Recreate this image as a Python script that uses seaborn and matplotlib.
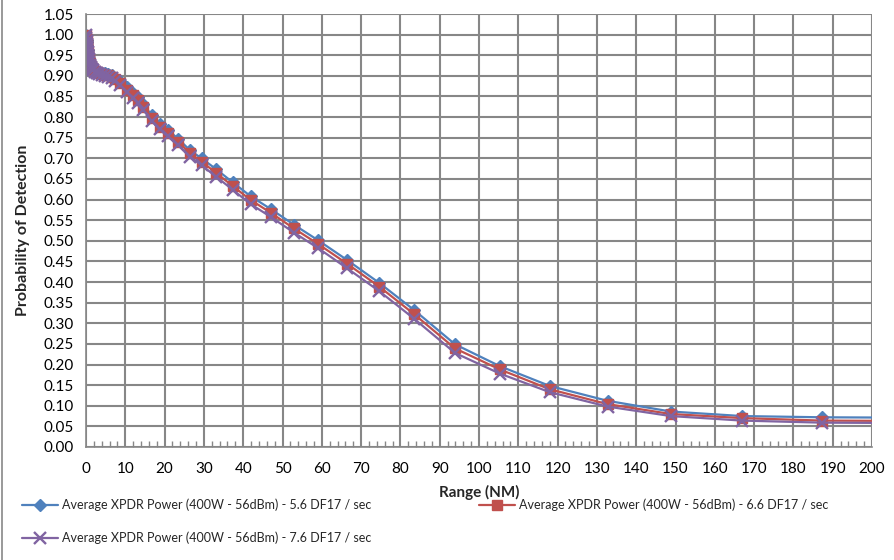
import matplotlib
matplotlib.use("Agg")
import matplotlib.pyplot as plt
import seaborn as sns
import pandas as pd
from matplotlib.ticker import MultipleLocator
from matplotlib.lines import Line2D

# range (NM) for each sample
range_nm = [0.05, 0.1, 0.15, 0.2, 0.25, 0.3, 0.4, 0.5, 0.6, 0.7, 0.8, 1.0, 1.2, 1.5,
            1.8, 2.2, 2.7, 3.3, 4.0, 4.8, 5.6, 6.5, 7.5, 8.7, 10.4, 12.0, 13.3, 14.6,
            16.7, 18.8, 20.9, 23.5, 26.5, 29.4, 33.2, 37.3, 41.9, 47.0, 52.9, 59.1,
            66.5, 74.6, 83.5, 93.9, 105.3, 118.0, 132.7, 148.8, 167.0, 187.4, 212.0]

pd_56 = [1.000, 0.995, 0.988, 0.981, 0.975, 0.970, 0.962, 0.955, 0.949, 0.944, 0.939,
         0.933, 0.928, 0.923, 0.919, 0.915, 0.912, 0.910, 0.908, 0.906, 0.904, 0.901,
         0.896, 0.887, 0.872, 0.859, 0.848, 0.832, 0.804, 0.784, 0.768, 0.747, 0.719,
         0.700, 0.673, 0.642, 0.608, 0.577, 0.539, 0.501, 0.453, 0.398, 0.332, 0.249,
         0.196, 0.148, 0.112, 0.086, 0.075, 0.072, 0.071]

pd_66 = [1.000, 0.993, 0.986, 0.979, 0.973, 0.968, 0.960, 0.953, 0.947, 0.942, 0.937,
         0.930, 0.925, 0.920, 0.916, 0.912, 0.909, 0.907, 0.905, 0.903, 0.901, 0.898,
         0.892, 0.882, 0.866, 0.853, 0.841, 0.825, 0.797, 0.777, 0.761, 0.740, 0.712,
         0.692, 0.664, 0.633, 0.599, 0.568, 0.530, 0.492, 0.444, 0.389, 0.322, 0.239,
         0.188, 0.140, 0.104, 0.080, 0.070, 0.064, 0.063]

pd_76 = [1.000, 0.991, 0.984, 0.977, 0.971, 0.966, 0.958, 0.951, 0.945, 0.940, 0.934,
         0.927, 0.922, 0.917, 0.913, 0.909, 0.906, 0.904, 0.902, 0.900, 0.898, 0.894,
         0.887, 0.877, 0.860, 0.847, 0.835, 0.818, 0.790, 0.770, 0.753, 0.732, 0.704,
         0.683, 0.655, 0.624, 0.589, 0.558, 0.520, 0.482, 0.433, 0.378, 0.311, 0.228,
         0.178, 0.133, 0.098, 0.075, 0.064, 0.059, 0.058]

labels = ["Average XPDR Power (400W - 56dBm) - 5.6 DF17 / sec",
          "Average XPDR Power (400W - 56dBm) - 6.6 DF17 / sec",
          "Average XPDR Power (400W - 56dBm) - 7.6 DF17 / sec"]
colors = ["#4F81BD", "#C0504D", "#8064A2"]
markers = ["D", "s", "x"]
msizes = [6.5, 7, 8]
mwidths = [1.0, 1.0, 1.7]

sns.set_style("white")
plt.rcParams["font.family"] = ["Lato", "DejaVu Sans"]

fig = plt.figure(figsize=(8.95, 5.6), dpi=100)
ax = fig.add_axes([0.0961, 0.2018, 0.8782, 0.7732])

series = [pd_56, pd_66, pd_76]
for vals, lab, col, mk, ms, mw in zip(series, labels, colors, markers, msizes, mwidths):
    df = pd.DataFrame({"x": range_nm, "y": vals})
    sns.lineplot(data=df, x="x", y="y", ax=ax, color=col, linewidth=1.6,
                 marker=mk, markersize=ms, markeredgecolor=col,
                 markeredgewidth=mw, label=lab, sort=False)

ax.set_xlim(0, 200)
ax.set_ylim(0, 1.05)
ax.xaxis.set_major_locator(MultipleLocator(10))
ax.xaxis.set_minor_locator(MultipleLocator(2))
ax.yaxis.set_major_locator(MultipleLocator(0.05))
ax.yaxis.set_major_formatter(matplotlib.ticker.FormatStrFormatter("%.2f"))

ax.grid(True, which="major", color="#878787", linewidth=1.5)
ax.set_axisbelow(True)
for s in ["top", "right"]:
    ax.spines[s].set_visible(False)
for s in ["left", "bottom"]:
    ax.spines[s].set_color("#878787")
    ax.spines[s].set_linewidth(1.2)

ax.tick_params(axis="both", which="major", direction="out", length=5,
               color="#878787", width=1.0, labelsize=11, colors="#878787",
               labelcolor="black")
ax.tick_params(axis="x", which="minor", direction="in", length=4, bottom=True,
               color="#878787", width=1.0)
ax.tick_params(axis="x", which="major", pad=6)

ax.set_xlabel("Range (NM)", fontsize=11, fontweight="bold", labelpad=6)
ax.set_ylabel("Probability of Detection", fontsize=11.5, fontweight="bold", labelpad=10)

handles = [Line2D([0], [0], color=c, marker=m, linewidth=1.6, markersize=ms,
                  markeredgewidth=mw)
           for c, m, ms, mw in zip(colors, markers, msizes, mwidths)]
ax.legend_.remove()
# column-major fill: blue and purple in column 1, red in column 2
order = [0, 2, 1]
fig.legend([handles[i] for i in order], [labels[i] for i in order],
           loc="upper left", bbox_to_anchor=(0.012, 0.13), ncol=2,
           frameon=False, fontsize=9.0, handlelength=2.9, handletextpad=0.3,
           columnspacing=8.6, labelspacing=1.65)

# left border of the original chart area
fig.add_artist(Line2D([0.002, 0.002], [0, 1], color="#878787", linewidth=1.2,
                      transform=fig.transFigure))

fig.savefig("out.png", dpi=100)
